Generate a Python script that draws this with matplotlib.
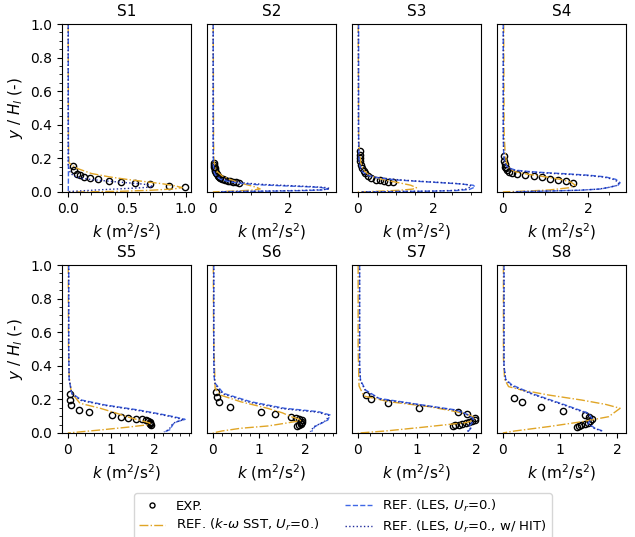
import matplotlib
matplotlib.use("Agg")
import matplotlib.pyplot as plt

# station names
STATIONS = ["S1", "S2", "S3", "S4", "S5", "S6", "S7", "S8"]

# experimental points (k, y/H_l) per station
EXP_K = [
    [0.04, 0.053, 0.08, 0.10, 0.14, 0.19, 0.26, 0.35, 0.45, 0.57, 0.70, 0.855, 0.995],
    [0.03, 0.035, 0.04, 0.05, 0.06, 0.07, 0.085, 0.10, 0.125, 0.15, 0.19, 0.23, 0.28,
     0.33, 0.40, 0.46, 0.53, 0.60, 0.68],
    [0.045, 0.045, 0.05, 0.06, 0.08, 0.11, 0.15, 0.20, 0.27, 0.36, 0.47, 0.58, 0.69, 0.81, 0.93],
    [0.03, 0.03, 0.045, 0.055, 0.08, 0.10, 0.14, 0.21, 0.34, 0.53, 0.72, 0.91, 1.10, 1.30, 1.49, 1.65],
    [0.053, 0.053, 0.065, 0.26, 0.49, 1.03, 1.23, 1.40, 1.58, 1.71, 1.80, 1.86, 1.89, 1.90, 1.91, 1.92],
    [0.07, 0.09, 0.14, 0.36, 1.04, 1.35, 1.69, 1.79, 1.86, 1.92, 1.93, 1.91, 1.90, 1.86, 1.82],
    [0.13, 0.22, 0.51, 1.03, 1.69, 1.84, 1.97, 1.97, 1.93, 1.88, 1.82, 1.76, 1.70, 1.64, 1.60],
    [0.20, 0.34, 0.66, 1.05, 1.43, 1.50, 1.56, 1.53, 1.49, 1.43, 1.37, 1.33, 1.29],
]
EXP_Y = [
    [0.154, 0.128, 0.109, 0.100, 0.092, 0.083, 0.077, 0.067, 0.059, 0.052, 0.045, 0.037, 0.030],
    [0.172, 0.160, 0.150, 0.140, 0.131, 0.123, 0.114, 0.106, 0.098, 0.091, 0.085, 0.080, 0.075,
     0.071, 0.067, 0.063, 0.060, 0.057, 0.054],
    [0.242, 0.222, 0.202, 0.182, 0.163, 0.145, 0.127, 0.110, 0.094, 0.083, 0.074, 0.069, 0.064, 0.060, 0.057],
    [0.214, 0.186, 0.165, 0.150, 0.140, 0.128, 0.117, 0.110, 0.106, 0.102, 0.095, 0.088, 0.080, 0.073, 0.063, 0.051],
    [0.233, 0.198, 0.167, 0.137, 0.127, 0.107, 0.097, 0.091, 0.085, 0.081, 0.077, 0.070, 0.065, 0.060, 0.055, 0.050],
    [0.242, 0.212, 0.183, 0.153, 0.125, 0.113, 0.095, 0.089, 0.083, 0.076, 0.068, 0.062, 0.055, 0.049, 0.043],
    [0.228, 0.200, 0.176, 0.147, 0.123, 0.112, 0.090, 0.080, 0.073, 0.066, 0.060, 0.055, 0.050, 0.045, 0.042],
    [0.206, 0.183, 0.157, 0.133, 0.107, 0.097, 0.083, 0.071, 0.061, 0.054, 0.046, 0.041, 0.036],
]

# REF k-omega SST
SST_K = [
    [0.003, 0.005, 0.01, 0.03, 0.08, 0.20, 0.35, 0.50, 0.65, 0.80, 0.90, 0.97, 0.90, 0.70, 0.45, 0.20, 0.0],
    [0.01, 0.02, 0.03, 0.06, 0.12, 0.25, 0.45, 0.70, 0.95, 1.15, 1.25, 1.10, 0.80, 0.40, 0.10, 0.0],
    [0.01, 0.02, 0.04, 0.08, 0.15, 0.30, 0.55, 0.85, 1.15, 1.40, 1.55, 1.45, 1.10, 0.60, 0.20, 0.0],
    [0.02, 0.03, 0.05, 0.08, 0.15, 0.30, 0.60, 1.00, 1.35, 1.60, 1.70, 1.55, 1.10, 0.60, 0.20, 0.0],
    [0.01, 0.015, 0.03, 0.08, 0.28, 0.75, 1.10, 1.36, 1.60, 1.82, 1.90, 1.82, 1.40, 0.75, 0.30, 0.05, 0.0],
    [0.01, 0.015, 0.05, 0.16, 0.60, 1.18, 1.50, 1.69, 1.85, 1.91, 1.76, 1.20, 0.60, 0.20, 0.0],
    [0.005, 0.005, 0.02, 0.10, 0.53, 1.20, 1.66, 1.88, 1.98, 1.90, 1.83, 1.09, 0.47, 0.10, 0.0],
    [0.01, 0.01, 0.03, 0.10, 0.33, 0.80, 1.38, 1.80, 2.05, 1.85, 1.38, 0.80, 0.21, 0.0],
]
SST_Y = [
    [1.0, 0.30, 0.175, 0.16, 0.14, 0.11, 0.09, 0.075, 0.062, 0.049, 0.038, 0.026, 0.018, 0.010, 0.004, 0.001, 0.0],
    [1.0, 0.30, 0.185, 0.15, 0.12, 0.095, 0.075, 0.055, 0.040, 0.028, 0.018, 0.012, 0.008, 0.004, 0.001, 0.0],
    [1.0, 0.35, 0.24, 0.17, 0.13, 0.10, 0.08, 0.065, 0.052, 0.040, 0.025, 0.017, 0.010, 0.005, 0.001, 0.0],
    [1.0, 0.35, 0.25, 0.18, 0.14, 0.12, 0.105, 0.09, 0.075, 0.058, 0.040, 0.025, 0.012, 0.006, 0.002, 0.0],
    [1.0, 0.50, 0.34, 0.24, 0.177, 0.147, 0.12, 0.097, 0.08, 0.065, 0.058, 0.048, 0.035, 0.018, 0.007, 0.001, 0.0],
    [1.0, 0.60, 0.266, 0.226, 0.186, 0.147, 0.12, 0.097, 0.083, 0.075, 0.067, 0.042, 0.028, 0.012, 0.0],
    [1.0, 0.50, 0.28, 0.22, 0.186, 0.157, 0.127, 0.107, 0.09, 0.07, 0.062, 0.034, 0.012, 0.002, 0.0],
    [1.0, 0.45, 0.32, 0.276, 0.256, 0.226, 0.196, 0.17, 0.147, 0.097, 0.067, 0.038, 0.012, 0.0],
]

# REF LES
LES_K = [
    [0.004, 0.004, 0.005, 0.004, 0.0],
    [0.01, 0.01, 0.015, 0.03, 0.08, 0.20, 0.45, 0.80, 1.20, 1.80, 2.40, 2.85, 3.05, 2.90, 2.40, 1.60, 0.80, 0.20],
    [0.02, 0.02, 0.03, 0.06, 0.12, 0.25, 0.50, 1.00, 1.60, 2.20, 2.70, 3.05, 3.10, 2.95, 2.60, 2.00, 1.20, 0.50, 0.10],
    [0.01, 0.01, 0.02, 0.05, 0.12, 0.30, 0.60, 1.00, 1.50, 2.00, 2.40, 2.65, 2.75, 2.70, 2.50, 2.30, 1.80, 1.00, 0.30],
    [0.02, 0.02, 0.03, 0.09, 0.32, 0.86, 1.63, 2.10, 2.45, 2.71, 2.52, 2.44, 2.40, 2.36, 2.25],
    [0.02, 0.02, 0.03, 0.05, 0.23, 0.82, 1.55, 2.28, 2.53, 2.48, 2.20, 2.13],
    [0.03, 0.03, 0.045, 0.13, 0.36, 0.92, 1.66, 1.85, 1.95, 1.93, 1.88, 1.91, 1.85],
    [0.02, 0.02, 0.05, 0.16, 0.50, 1.09, 1.50, 1.56, 1.49, 1.61, 1.73, 1.70],
]
LES_Y = [
    [1.0, 0.5, 0.1, 0.01, 0.0],
    [1.0, 0.30, 0.16, 0.12, 0.095, 0.075, 0.06, 0.05, 0.043, 0.037, 0.032, 0.027, 0.019, 0.012, 0.008, 0.005, 0.003, 0.001],
    [1.0, 0.35, 0.20, 0.15, 0.12, 0.10, 0.085, 0.072, 0.063, 0.055, 0.048, 0.04, 0.03, 0.015, 0.008, 0.005, 0.003, 0.001, 0.0],
    [1.0, 0.35, 0.22, 0.17, 0.145, 0.13, 0.122, 0.115, 0.108, 0.10, 0.09, 0.075, 0.055, 0.04, 0.028, 0.018, 0.01, 0.005, 0.001],
    [1.0, 0.50, 0.32, 0.236, 0.196, 0.167, 0.137, 0.115, 0.097, 0.081, 0.067, 0.055, 0.038, 0.02, 0.008],
    [1.0, 0.45, 0.33, 0.296, 0.236, 0.186, 0.147, 0.127, 0.107, 0.077, 0.038, 0.008],
    [1.0, 0.40, 0.315, 0.256, 0.206, 0.176, 0.137, 0.11, 0.085, 0.06, 0.04, 0.028, 0.005],
    [1.0, 0.40, 0.32, 0.286, 0.236, 0.167, 0.117, 0.087, 0.058, 0.028, 0.014, 0.004],
]

# REF LES with HIT inflow
HIT_K = [
    [0.003, 0.003, 0.02, 0.05, 0.10, 0.20, 0.35, 0.50, 0.62, 0.70, 0.72, 0.60, 0.30, 0.02, 0.0],
    [0.008, 0.008, 0.012, 0.03, 0.09, 0.22, 0.50, 0.90, 1.40, 2.00, 2.60, 3.00, 3.10, 2.90, 2.30, 1.50, 0.70, 0.15],
    [0.015, 0.015, 0.025, 0.05, 0.10, 0.22, 0.45, 0.95, 1.55, 2.15, 2.65, 2.95, 3.00, 2.85, 2.50, 1.90, 1.10, 0.45, 0.10],
    [0.01, 0.01, 0.02, 0.05, 0.12, 0.28, 0.58, 0.98, 1.48, 1.98, 2.38, 2.62, 2.72, 2.68, 2.48, 2.25, 1.75, 0.95, 0.25],
    [0.02, 0.02, 0.03, 0.09, 0.30, 0.84, 1.60, 2.08, 2.42, 2.68, 2.50, 2.42, 2.38, 2.33, 2.22],
    [0.02, 0.02, 0.03, 0.05, 0.22, 0.80, 1.52, 2.25, 2.50, 2.45, 2.18, 2.10],
    [0.03, 0.03, 0.045, 0.13, 0.38, 0.95, 1.68, 1.86, 1.94, 1.92, 1.87, 1.90, 1.84],
    [0.02, 0.02, 0.05, 0.16, 0.52, 1.10, 1.49, 1.55, 1.48, 1.60, 1.72, 1.68],
]
HIT_Y = [
    [1.0, 0.16, 0.115, 0.095, 0.084, 0.074, 0.064, 0.055, 0.048, 0.041, 0.030, 0.024, 0.014, 0.003, 0.0],
    [1.0, 0.30, 0.16, 0.125, 0.10, 0.08, 0.063, 0.052, 0.044, 0.038, 0.032, 0.026, 0.020, 0.013, 0.009, 0.006, 0.003, 0.001],
    [1.0, 0.35, 0.20, 0.155, 0.125, 0.104, 0.088, 0.075, 0.065, 0.057, 0.05, 0.042, 0.032, 0.017, 0.009, 0.005, 0.003, 0.001, 0.0],
    [1.0, 0.35, 0.22, 0.17, 0.143, 0.128, 0.12, 0.113, 0.106, 0.098, 0.088, 0.073, 0.054, 0.039, 0.027, 0.017, 0.01, 0.005, 0.001],
    [1.0, 0.50, 0.32, 0.234, 0.194, 0.165, 0.135, 0.113, 0.095, 0.079, 0.066, 0.054, 0.037, 0.019, 0.007],
    [1.0, 0.45, 0.33, 0.29, 0.232, 0.182, 0.144, 0.124, 0.105, 0.075, 0.037, 0.008],
    [1.0, 0.40, 0.31, 0.25, 0.2, 0.172, 0.133, 0.107, 0.083, 0.058, 0.039, 0.027, 0.005],
    [1.0, 0.40, 0.315, 0.28, 0.23, 0.162, 0.114, 0.085, 0.056, 0.027, 0.013, 0.004],
]

SST_COLOR = "#e0a526"
LES_COLOR = "#3f68e6"
HIT_COLOR = "#1f2a9c"

plt.rcParams.update({"font.size": 10, "axes.titlesize": 11, "axes.labelsize": 11})

fig, axes = plt.subplots(2, 4, figsize=(6.35, 5.37), dpi=100, sharey=True)
fig.subplots_adjust(left=0.0976, right=0.9858, top=0.9553, bottom=0.1937,
                    wspace=0.124, hspace=0.435)

for i, ax in enumerate(axes.flat):
    h_exp, = ax.plot(EXP_K[i], EXP_Y[i], "o", mfc="none", mec="black", ms=4.5,
                     mew=1.0, label="EXP.")
    h_sst, = ax.plot(SST_K[i], SST_Y[i], "-.", color=SST_COLOR, lw=1.0,
                     label=r"REF. ($k$-$\omega$ SST, $U_r$=0.)")
    h_les, = ax.plot(LES_K[i], LES_Y[i], "--", color=LES_COLOR, lw=1.0,
                     label=r"REF. (LES, $U_r$=0.)")
    h_hit, = ax.plot(HIT_K[i], HIT_Y[i], ":", color=HIT_COLOR, lw=1.0,
                     label=r"REF. (LES, $U_r$=0., w/ HIT)")
    ax.set_title(STATIONS[i])
    ax.set_xlabel(r"$k$ (m$^2$/s$^2$)")
    ax.set_ylim(0, 1.0)
    ax.minorticks_on()
    if i % 4 == 0:
        ax.set_ylabel(r"$y$ / $H_l$ (-)")
    else:
        ax.tick_params(axis="y", which="both", left=False)

fig.legend([h_exp, h_sst, h_les, h_hit],
           [h.get_label() for h in (h_exp, h_sst, h_les, h_hit)],
           loc="upper center", bbox_to_anchor=(0.54, 0.094), ncol=2,
           fontsize=9.5, labelspacing=0.35, borderpad=0.35, markerscale=0.8)

fig.savefig("out.png", dpi=100)
